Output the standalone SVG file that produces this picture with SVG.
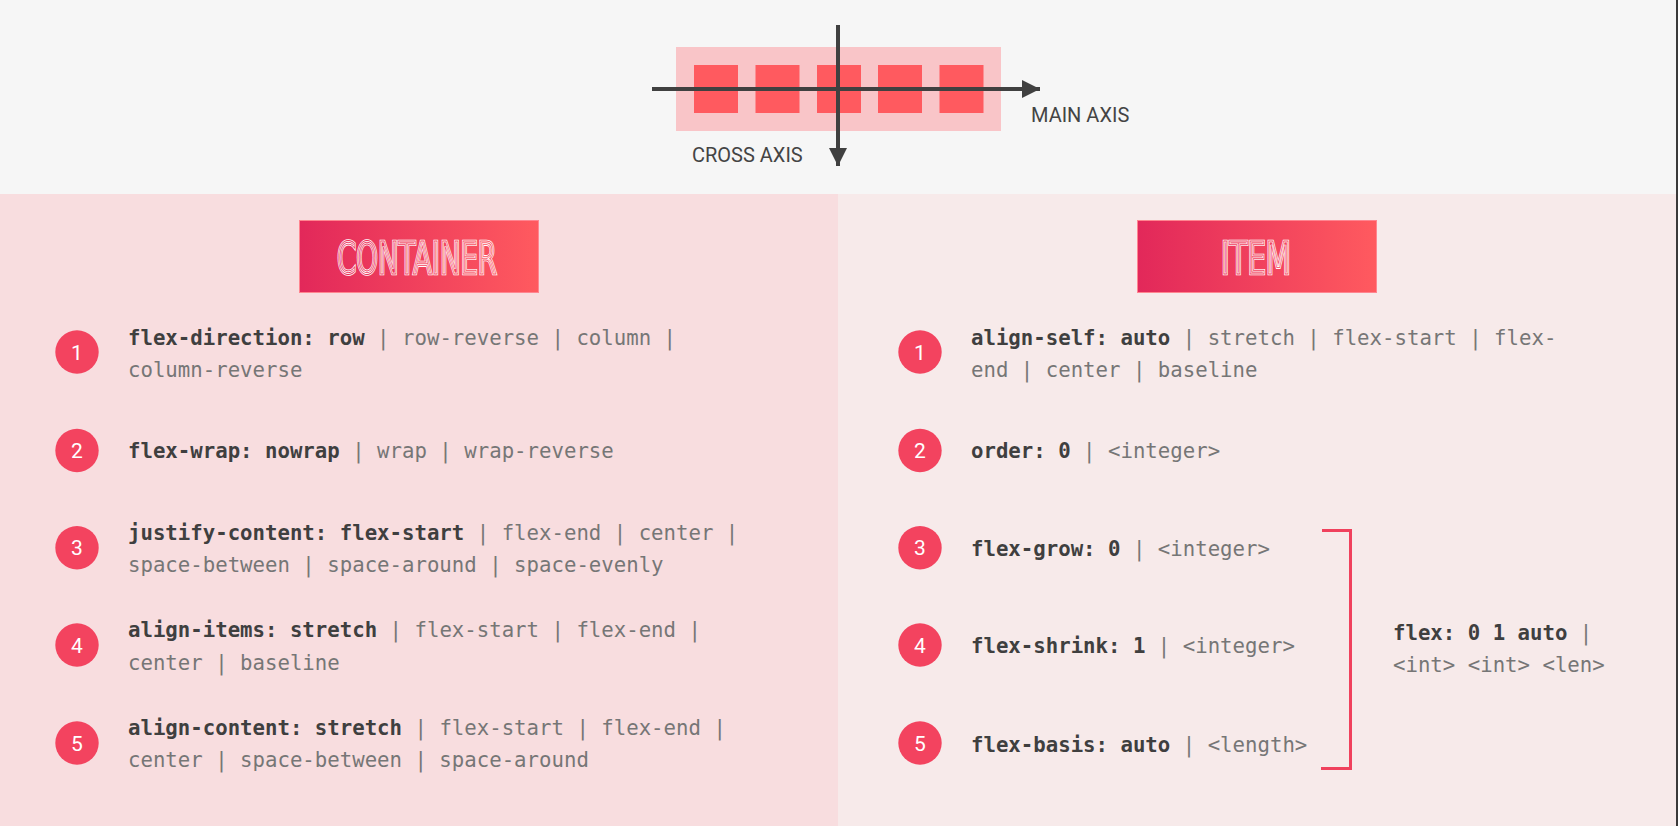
<svg xmlns="http://www.w3.org/2000/svg" width="1678" height="826" viewBox="0 0 1678 826">
  <defs>
    <linearGradient id="gradC" gradientUnits="userSpaceOnUse" x1="299.5" y1="0" x2="538.5" y2="0">
      <stop offset="0" stop-color="#e2285a"/>
      <stop offset="1" stop-color="#ff5a5f"/>
    </linearGradient>
    <linearGradient id="gradI" gradientUnits="userSpaceOnUse" x1="1137.5" y1="0" x2="1376.5" y2="0">
      <stop offset="0" stop-color="#e2285a"/>
      <stop offset="1" stop-color="#ff5a5f"/>
    </linearGradient>
    <marker id="arrow" viewBox="0 0 10 10" refX="10" refY="5" markerWidth="4.6" markerHeight="4.6" markerUnits="strokeWidth" orient="auto">
      <path d="M0,0 L10,5 L0,10 Z" fill="#404040"/>
    </marker>
    <style>
      .code { font-family: "DejaVu Sans Mono", "Liberation Mono", monospace; font-size: 20.7px; fill: #767676; }
      .b { font-weight: bold; fill: #3f3f3f; }
      .badge { fill: #f3435f; }
      .num { font-family: Roboto, "Liberation Sans", sans-serif; font-size: 21px; fill: #ffffff; text-anchor: middle; }
      .axislbl { font-family: Roboto, "Liberation Sans", sans-serif; font-size: 20px; fill: #444444; }
      .title { font-family: "DejaVu Sans Condensed", "DejaVu Sans", sans-serif; font-size: 44px; font-weight: 300; fill: none; }
      .outer { stroke: #ffffff; stroke-width: 2.6; }
      .inner { stroke-width: 0.9; }
      .tbox { stroke: #ff8590; stroke-width: 1; }
      .axis { stroke: #404040; stroke-width: 4; fill: none; }
      .sq { fill: #ff5a5f; }
    </style>
  </defs>

  <!-- backgrounds -->
  <rect x="0" y="0" width="1678" height="194" fill="#f6f6f6"/>
  <rect x="0" y="194" width="838" height="632" fill="#f8dddf"/>
  <rect x="838" y="194" width="840" height="632" fill="#f7eaea"/>
  <rect x="1676" y="0" width="2" height="826" fill="#3a3a3a"/>

  <!-- flex container illustration -->
  <g id="illustration">
    <rect x="676" y="47" width="325" height="84" fill="#f9c5c8"/>
    <rect class="sq" x="694" y="65" width="44" height="48"/>
    <rect class="sq" x="755.5" y="65" width="44" height="48"/>
    <rect class="sq" x="817" y="65" width="44" height="48"/>
    <rect class="sq" x="878" y="65" width="44" height="48"/>
    <rect class="sq" x="939.5" y="65" width="44" height="48"/>
  </g>

  <g id="axes">
    <line class="axis" x1="652" y1="89" x2="1040" y2="89" marker-end="url(#arrow)"/>
    <line class="axis" x1="838" y1="25" x2="838" y2="166" marker-end="url(#arrow)"/>
    <text class="axislbl" x="1031" y="121.5">MAIN AXIS</text>
    <text class="axislbl" x="692" y="161.5">CROSS AXIS</text>
  </g>

  <!-- titles -->
  <g id="container-title">
    <rect class="tbox" x="299.5" y="220.5" width="239" height="72" fill="url(#gradC)"/>
    <text class="title outer" x="337" y="274" textLength="160" lengthAdjust="spacingAndGlyphs">CONTAINER</text>
    <text class="title inner" x="337" y="274" textLength="160" lengthAdjust="spacingAndGlyphs" stroke="url(#gradC)">CONTAINER</text>
  </g>
  <g id="item-title">
    <rect class="tbox" x="1137.5" y="220.5" width="239" height="72" fill="url(#gradI)"/>
    <text class="title outer" x="1221" y="274" textLength="70" lengthAdjust="spacingAndGlyphs">ITEM</text>
    <text class="title inner" x="1221" y="274" textLength="70" lengthAdjust="spacingAndGlyphs" stroke="url(#gradI)">ITEM</text>
  </g>

  <!-- container properties -->
  <g id="c1">
    <circle class="badge" cx="77" cy="352" r="21.7"/>
    <text class="num" x="77" y="359.5">1</text>
    <text class="code" x="128" y="345"><tspan class="b">flex-direction: row</tspan> | row-reverse | column |</text>
    <text class="code" x="128" y="377">column-reverse</text>
  </g>
  <g id="c2">
    <circle class="badge" cx="77" cy="450.5" r="21.7"/>
    <text class="num" x="77" y="458">2</text>
    <text class="code" x="128" y="458"><tspan class="b">flex-wrap: nowrap</tspan> | wrap | wrap-reverse</text>
  </g>
  <g id="c3">
    <circle class="badge" cx="77" cy="547.7" r="21.7"/>
    <text class="num" x="77" y="555.2">3</text>
    <text class="code" x="128" y="540"><tspan class="b">justify-content: flex-start</tspan> | flex-end | center |</text>
    <text class="code" x="128" y="572">space-between | space-around | space-evenly</text>
  </g>
  <g id="c4">
    <circle class="badge" cx="77" cy="645" r="21.7"/>
    <text class="num" x="77" y="652.5">4</text>
    <text class="code" x="128" y="637"><tspan class="b">align-items: stretch</tspan> | flex-start | flex-end |</text>
    <text class="code" x="128" y="669.5">center | baseline</text>
  </g>
  <g id="c5">
    <circle class="badge" cx="77" cy="743" r="21.7"/>
    <text class="num" x="77" y="750.5">5</text>
    <text class="code" x="128" y="735"><tspan class="b">align-content: stretch</tspan> | flex-start | flex-end |</text>
    <text class="code" x="128" y="767">center | space-between | space-around</text>
  </g>

  <!-- item properties -->
  <g id="i1">
    <circle class="badge" cx="920" cy="352" r="21.7"/>
    <text class="num" x="920" y="359.5">1</text>
    <text class="code" x="971" y="345"><tspan class="b">align-self: auto</tspan> | stretch | flex-start | flex-</text>
    <text class="code" x="971" y="377">end | center | baseline</text>
  </g>
  <g id="i2">
    <circle class="badge" cx="920" cy="450.5" r="21.7"/>
    <text class="num" x="920" y="458">2</text>
    <text class="code" x="971" y="458"><tspan class="b">order: 0</tspan> | &lt;integer&gt;</text>
  </g>
  <g id="i3">
    <circle class="badge" cx="920" cy="547.7" r="21.7"/>
    <text class="num" x="920" y="555.2">3</text>
    <text class="code" x="971" y="556"><tspan class="b">flex-grow: 0</tspan> | &lt;integer&gt;</text>
  </g>
  <g id="i4">
    <circle class="badge" cx="920" cy="645" r="21.7"/>
    <text class="num" x="920" y="652.5">4</text>
    <text class="code" x="971" y="653"><tspan class="b">flex-shrink: 1</tspan> | &lt;integer&gt;</text>
  </g>
  <g id="i5">
    <circle class="badge" cx="920" cy="743" r="21.7"/>
    <text class="num" x="920" y="750.5">5</text>
    <text class="code" x="971" y="752"><tspan class="b">flex-basis: auto</tspan> | &lt;length&gt;</text>
  </g>
  <g id="flex-shorthand">
    <text class="code" x="1393" y="640"><tspan class="b">flex: 0 1 auto</tspan> |</text>
    <text class="code" x="1393" y="672">&lt;int&gt; &lt;int&gt; &lt;len&gt;</text>
  </g>

  <g id="connectors">
    <path d="M1322,530.5 H1350.5 V768.5 H1321" fill="none" stroke="#f0415d" stroke-width="3"/>
  </g>
</svg>
